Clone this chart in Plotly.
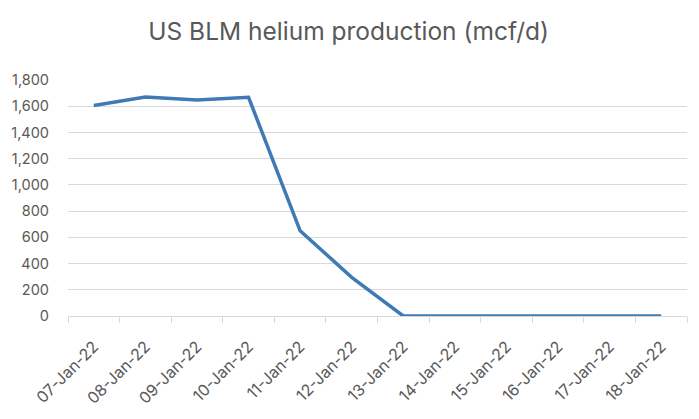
import plotly.graph_objects as go

# Daily US BLM helium production, mcf/d
dates = ["07-Jan-22", "08-Jan-22", "09-Jan-22", "10-Jan-22", "11-Jan-22", "12-Jan-22",
         "13-Jan-22", "14-Jan-22", "15-Jan-22", "16-Jan-22", "17-Jan-22", "18-Jan-22"]
production = [1605, 1670, 1647, 1668, 650, 295, 0, 0, 0, 0, 0, 0]
y_ticks = [0, 200, 400, 600, 800, 1000, 1200, 1400, 1600, 1800]

TEXT = "#595959"
GRID = "#d9d9d9"
LINE = "#3f7ab6"
FONT = "Inter, Lato, sans-serif"

fig = go.Figure()
fig.add_trace(go.Scatter(
    x=dates,
    y=production,
    mode="lines",
    line=dict(color=LINE, width=3.5),
    showlegend=False,
))

# page body has an 8px margin, so the figure is a bit smaller than the window
fig.update_layout(
    width=691, height=411,
    margin=dict(l=60, r=12, t=72, b=103),
    paper_bgcolor="white",
    plot_bgcolor="white",
    font=dict(family=FONT, color=TEXT, size=14),
    title=dict(
        text="US BLM helium production (mcf/d)",
        x=0.493, xanchor="center",
        y=0.942, yanchor="middle",
        font=dict(size=24.5, color=TEXT, family=FONT),
    ),
)

fig.update_xaxes(
    type="category",
    range=[-0.5, 11.5],
    automargin=False,
    tickson="boundaries",
    ticks="outside", ticklen=6, tickcolor=GRID, tickwidth=1,
    showline=True, linecolor=GRID, linewidth=1,
    showgrid=False,
    tickangle=-45,
    ticklabelstandoff=14,
    tickfont=dict(size=16, color=TEXT),
)
fig.update_yaxes(
    range=[0, 1800],
    automargin=False,
    tickvals=y_ticks,
    tickformat=",",
    showgrid=True, gridcolor=GRID, gridwidth=1,
    zeroline=False,
    showline=False,
    ticks="",
    ticklabelstandoff=18,
    tickfont=dict(size=14.5, color=TEXT),
)

fig.write_html("out.html")
